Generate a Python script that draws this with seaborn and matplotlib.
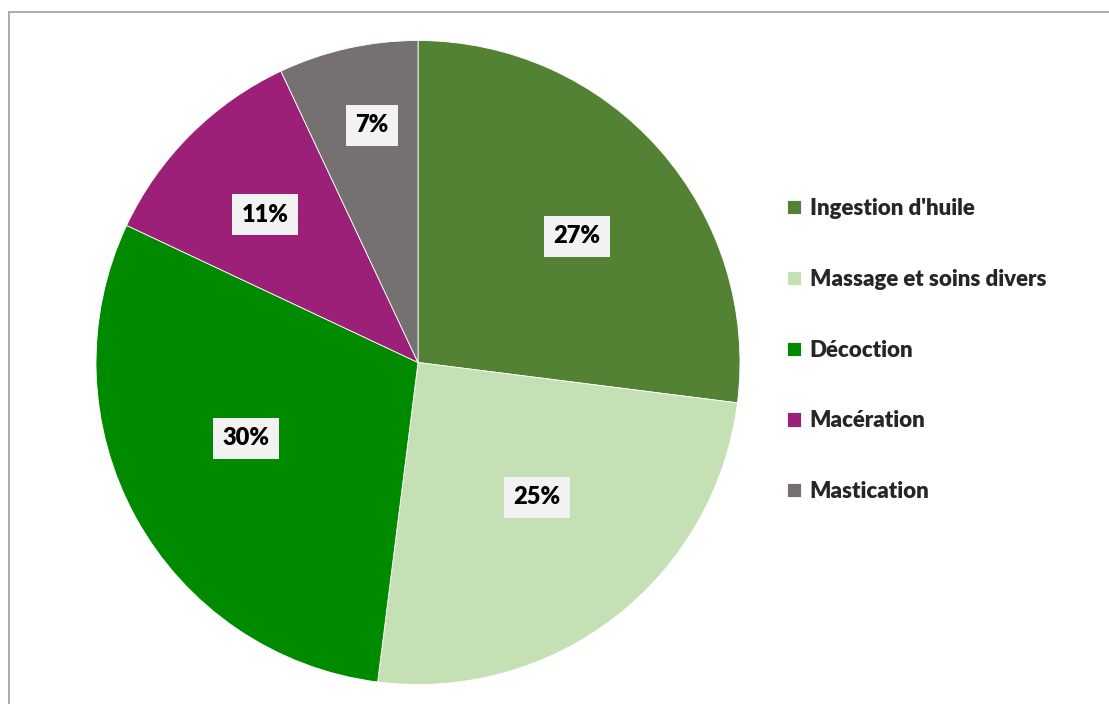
import matplotlib
matplotlib.use("Agg")
import matplotlib.pyplot as plt
from matplotlib.lines import Line2D
import numpy as np
import seaborn as sns

categories = ["Ingestion d'huile", "Massage et soins divers", "Décoction",
              "Macération", "Mastication"]
values = [27, 25, 30, 11, 7]
colors = ["#548235", "#C5E0B4", "#008A00", "#9C1F78", "#767171"]

# placement of the percentage boxes: radial distance and angular nudge (deg)
label_radius = [0.63, 0.558, 0.583, 0.66, 0.75]
label_shift = [-3.0, 3.7, -5.0, 1.0, -1.6]

sns.set_theme(style="white")
plt.rcParams["font.family"] = ["Lato", "DejaVu Sans"]

W, H = 1109, 704
fig = plt.figure(figsize=(W / 100, H / 100), dpi=100)

# outer frame of the chart area (top and left edges)
fig.add_artist(Line2D([8.5 / W, 8.5 / W], [0, 1 - 11.5 / H], color="#A6A6A6",
                      lw=1.3, transform=fig.transFigure))
fig.add_artist(Line2D([8.5 / W, 1], [1 - 11.5 / H, 1 - 11.5 / H], color="#A6A6A6",
                      lw=1.3, transform=fig.transFigure))

cx, cy, r = 418, 362.5, 322
ax = fig.add_axes([(cx - r) / W, (H - cy - r) / H, 2 * r / W, 2 * r / H])
wedges, _ = ax.pie(values, colors=colors, startangle=90, counterclock=False,
                   radius=1.0, wedgeprops=dict(edgecolor="white", linewidth=0.6))
ax.set_xlim(-1, 1)
ax.set_ylim(-1, 1)
ax.set_aspect("equal")
ax.axis("off")

for w, v, d, s in zip(wedges, values, label_radius, label_shift):
    ang = np.deg2rad((w.theta1 + w.theta2) / 2 + s)
    ax.text(d * np.cos(ang), d * np.sin(ang), f"{v}%", ha="center", va="center",
            fontsize=17, fontweight="heavy", color="black",
            bbox=dict(boxstyle="square,pad=0.4", fc="#F2F2F2", ec="none"))

fig.legend(wedges, categories, loc="upper left",
           bbox_to_anchor=(787 / W, 1 - 198 / H), frameon=False,
           prop=dict(size=16, weight="heavy"), handlelength=0.62,
           handleheight=0.62, handletextpad=0.4, labelspacing=2.24,
           borderpad=0, borderaxespad=0)

fig.savefig("out.png", dpi=100)
